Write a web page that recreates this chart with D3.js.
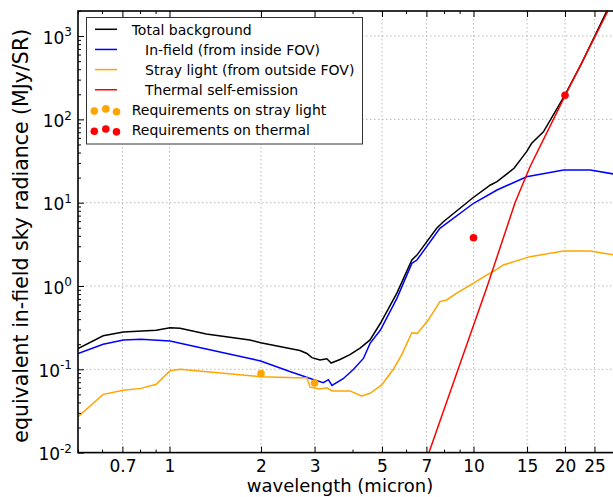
<!DOCTYPE html>
<html>
<head>
<meta charset="utf-8">
<script src="https://cdnjs.cloudflare.com/ajax/libs/d3/7.8.5/d3.min.js"></script>
<style>
body { margin: 0; background: #fff; }
svg { display: block; font-family: "DejaVu Sans", sans-serif; }
.grid line { stroke: #b8b8b8; stroke-dasharray: 1.5,2.5; stroke-width: 1; }
</style>
</head>
<body>
<svg width="613" height="497"></svg>
<script>
// wavelength (micron) / radiance (MJy/SR)
const totalWave = [0.5, 0.605, 0.705, 0.904, 1.004, 1.083, 1.321, 1.836, 1.994, 2.684, 2.831, 2.94, 3.126, 3.293, 3.402, 3.637, 3.921, 4.235, 4.568, 4.94, 5.596, 6.268, 6.514, 7.565, 7.958, 9.909, 11.368, 11.947, 13.594, 14.949, 15.535, 16.979, 19.974, 22.67, 27.39];
const totalVal  = [0.177, 0.253, 0.28, 0.294, 0.316, 0.31, 0.265, 0.225, 0.208, 0.168, 0.155, 0.138, 0.129, 0.134, 0.119, 0.131, 0.15, 0.18, 0.225, 0.357, 0.82, 2.05, 2.35, 4.93, 5.9, 11.3, 16.3, 17.9, 25.9, 41, 51.6, 71, 196, 471, 1963];

const infieldWave = [0.5, 0.605, 0.705, 0.805, 1.004, 1.321, 1.836, 1.994, 2.487, 2.97, 3.205, 3.333, 3.422, 3.726, 4.03, 4.343, 4.568, 4.94, 5.596, 6.268, 6.514, 7.751, 10.007, 11.947, 14.949, 19.78, 24.21, 29.12];
const infieldVal  = [0.155, 0.2, 0.225, 0.23, 0.218, 0.175, 0.135, 0.126, 0.094, 0.0755, 0.069, 0.075, 0.064, 0.077, 0.1, 0.135, 0.205, 0.296, 0.71, 1.87, 2.05, 4.93, 9.84, 14.2, 20.5, 24.7, 24.7, 22];

const strayWave = [0.5, 0.605, 0.705, 0.805, 0.904, 1.004, 1.083, 1.994, 2.615, 2.831, 2.9, 3.126, 3.293, 3.422, 3.921, 4.284, 4.568, 4.989, 5.448, 5.8, 6.268, 6.534, 7.097, 7.751, 8.159, 8.801, 10.007, 11.074, 11.947, 12.534, 15.339, 19.78, 24.21, 29.12];
const strayVal  = [0.027, 0.05, 0.056, 0.059, 0.066, 0.096, 0.1, 0.0815, 0.079, 0.079, 0.061, 0.058, 0.06, 0.055, 0.055, 0.048, 0.0515, 0.065, 0.1, 0.149, 0.275, 0.27, 0.39, 0.65, 0.68, 0.82, 1.08, 1.36, 1.59, 1.79, 2.25, 2.63, 2.63, 2.35];

const thermalWave = [7.137, 8.899, 11.103, 13.692, 15.339, 19.974, 27.68];
const thermalVal  = [0.01, 0.1, 1, 10, 27, 190, 2000];

const strayReqWave = [2, 3];
const strayReqVal  = [0.0886, 0.0686];
const thermalReqWave = [10, 20];
const thermalReqVal  = [3.8, 195];

const xTickVals = [0.7, 1, 2, 3, 5, 7, 10, 15, 20, 25];
const yTickVals = [0.01, 0.1, 1, 10, 100, 1000];
const yTickExp  = ['-2', '-1', '0', '1', '2', '3'];

const legendLabels = ['Total background', '   In-field (from inside FOV)', '   Stray light (from outside FOV)', '   Thermal self-emission', 'Requirements on stray light', 'Requirements on thermal'];

const svg = d3.select('svg');
const margin = {top: 11, left: 78, bottom: 452.6, right: 615};

const x = d3.scaleLog().domain([0.5, 29.2]).range([margin.left, margin.right]);
const y = d3.scaleLog().domain([0.01, 2000]).range([margin.bottom, margin.top]);

svg.append('rect').attr('width', 613).attr('height', 497).attr('fill', '#fff');

svg.append('clipPath').attr('id', 'plot')
    .append('rect')
    .attr('x', margin.left).attr('y', margin.top)
    .attr('width', margin.right - margin.left)
    .attr('height', margin.bottom - margin.top);

// grid
const grid = svg.append('g').attr('class', 'grid');
grid.selectAll('.gx').data(xTickVals).enter().append('line')
    .attr('x1', d => x(d)).attr('x2', d => x(d))
    .attr('y1', margin.top).attr('y2', margin.bottom);
grid.selectAll('.gy').data(yTickVals.slice(1)).enter().append('line')
    .attr('y1', d => y(d)).attr('y2', d => y(d))
    .attr('x1', margin.left).attr('x2', margin.right);

// curves
const zip = (a, b) => a.map((v, i) => [v, b[i]]);
const line = d3.line().x(d => x(d[0])).y(d => y(d[1]));
const curves = svg.append('g').attr('clip-path', 'url(#plot)');

const series = [
    {w: totalWave, v: totalVal, c: '#000000'},
    {w: infieldWave, v: infieldVal, c: '#0000ff'},
    {w: strayWave, v: strayVal, c: '#ffa500'},
    {w: thermalWave, v: thermalVal, c: '#ff0000'}
];
series.forEach(s => {
    curves.append('path')
        .attr('d', line(zip(s.w, s.v)))
        .attr('fill', 'none')
        .attr('stroke', s.c)
        .attr('stroke-width', 1.5);
});

curves.selectAll('.sreq').data(zip(strayReqWave, strayReqVal)).enter().append('circle')
    .attr('cx', d => x(d[0])).attr('cy', d => y(d[1])).attr('r', 3.8).attr('fill', '#ffa500');
curves.selectAll('.treq').data(zip(thermalReqWave, thermalReqVal)).enter().append('circle')
    .attr('cx', d => x(d[0])).attr('cy', d => y(d[1])).attr('r', 3.8).attr('fill', '#ff0000');

// axes
const xMinor = x.ticks().filter(d => !xTickVals.some(t => Math.abs(t - d) < 1e-9));
const yMinor = y.ticks().filter(d => !yTickVals.some(t => Math.abs(t / d - 1) < 1e-6));

const xAxis = svg.append('g')
    .attr('transform', `translate(0,${margin.bottom})`)
    .call(d3.axisBottom(x).tickValues(xTickVals).tickSize(-6).tickPadding(7).tickFormat(d3.format('')));
svg.append('g').attr('transform', `translate(0,${margin.bottom})`)
    .call(d3.axisBottom(x).tickValues(xMinor).tickSize(-3).tickFormat(''));
svg.append('g').attr('transform', `translate(0,${margin.top})`)
    .call(d3.axisTop(x).tickValues(xTickVals).tickSize(-6).tickFormat(''));
svg.append('g').attr('transform', `translate(0,${margin.top})`)
    .call(d3.axisTop(x).tickValues(xMinor).tickSize(-3).tickFormat(''));

const yAxis = svg.append('g')
    .attr('transform', `translate(${margin.left},0)`)
    .call(d3.axisLeft(y).tickValues(yTickVals).tickSize(-6).tickPadding(6).tickFormat(''));
svg.append('g').attr('transform', `translate(${margin.left},0)`)
    .call(d3.axisLeft(y).tickValues(yMinor).tickSize(-3).tickFormat(''));

svg.selectAll('.domain').remove();
svg.selectAll('.tick line').attr('stroke', '#000').attr('stroke-width', 1);

xAxis.selectAll('text').attr('font-size', 17).attr('font-family', 'DejaVu Sans').attr('fill', '#000');

yAxis.selectAll('.tick text').each(function(d, i) {
    const t = d3.select(this)
        .attr('font-size', 17).attr('font-family', 'DejaVu Sans').attr('fill', '#000')
        .attr('dy', '0.42em');
    t.append('tspan').text('10');
    t.append('tspan').attr('font-size', 12).attr('dy', '-0.62em').text(yTickExp[i]);
});

// frame
svg.append('rect')
    .attr('x', margin.left).attr('y', margin.top)
    .attr('width', margin.right - margin.left)
    .attr('height', margin.bottom - margin.top)
    .attr('fill', 'none').attr('stroke', '#000').attr('stroke-width', 1.6);

// labels
svg.append('text')
    .attr('x', 340).attr('y', 492)
    .attr('text-anchor', 'middle').attr('font-size', 18)
    .text('wavelength (micron)');
svg.append('text')
    .attr('transform', 'rotate(-90)')
    .attr('x', -(margin.top + margin.bottom) / 2 - 4).attr('y', 28)
    .attr('text-anchor', 'middle').attr('font-size', 20.5)
    .text('equivalent in-field sky radiance (MJy/SR)');

// legend
const legend = svg.append('g');
legend.append('rect')
    .attr('x', 86.5).attr('y', 17.5).attr('width', 276).attr('height', 126.5)
    .attr('fill', '#fff').attr('stroke', '#333').attr('stroke-width', 1);
const rowY = i => 29.3 + i * 20.15;
series.forEach((s, i) => {
    legend.append('line')
        .attr('x1', 95).attr('x2', 117).attr('y1', rowY(i)).attr('y2', rowY(i))
        .attr('stroke', s.c).attr('stroke-width', 1.5);
});
const dotOffsets = [[94.3, 1.2], [105.8, -1], [116.5, 1.8]];
['#ffa500', '#ff0000'].forEach((c, k) => {
    dotOffsets.forEach(o => {
        legend.append('circle')
            .attr('cx', o[0]).attr('cy', rowY(4 + k) + o[1]).attr('r', 3.8).attr('fill', c);
    });
});
legend.selectAll('.lt').data(legendLabels).enter().append('text')
    .attr('x', 131.7).attr('y', (d, i) => rowY(i) + 5.2)
    .attr('font-size', 14)
    .style('white-space', 'pre')
    .text(d => d);
</script>
</body>
</html>
